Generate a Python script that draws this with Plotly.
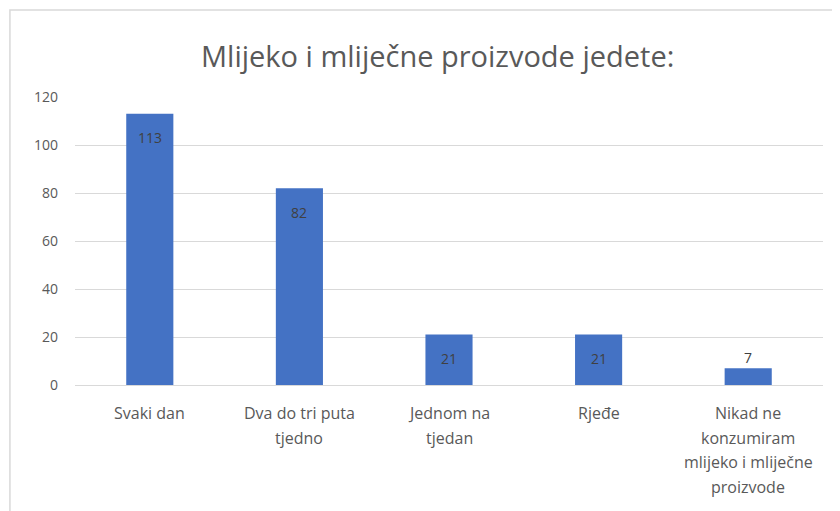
import plotly.graph_objects as go

categories = ["Svaki dan", "Dva do tri puta\ntjedno", "Jednom na\ntjedan", "Rjeđe",
              "Nikad ne\nkonzumiram\nmlijeko i mliječne\nproizvode"]
values = [113, 82, 21, 21, 7]
y_ticks = [0, 20, 40, 60, 80, 100, 120]
title_text = "Mlijeko i mliječne proizvode jedete:"

FONT = "Open Sans"
GRAY = "#595959"
BAR = "#4472C4"

fig = go.Figure(go.Bar(
    x=list(range(len(categories))), y=values,
    marker=dict(color=BAR, line=dict(width=0)),
    hoverinfo="x+y",
))

annotations = []
# category labels (multi-line, wider line spacing)
for i, cat in enumerate(categories):
    for j, line in enumerate(cat.split("\n")):
        annotations.append(dict(
            x=i, y=0, xref="x", yref="paper", text=line, showarrow=False,
            yanchor="middle", yshift=-28 - 24.5 * j,
            font=dict(family=FONT, size=16, color=GRAY),
        ))
# value labels
for i, v in enumerate(values):
    inside = v > 15
    annotations.append(dict(
        x=i, y=v, xref="x", yref="y", text=str(v), showarrow=False,
        yanchor="middle", yshift=-24 if inside else 11,
        font=dict(family=FONT, size=14, color="#404040"),
    ))
# title
annotations.append(dict(
    x=0.484, y=1.0, xref="paper", yref="paper", text=title_text, showarrow=False,
    yanchor="middle", yshift=42, font=dict(family=FONT, size=29, color=GRAY),
))

fig.update_layout(
    width=840, height=511,
    margin=dict(l=67, r=25, t=89, b=134),
    paper_bgcolor="white", plot_bgcolor="white",
    bargap=0.685, showlegend=False,
    annotations=annotations,
    xaxis=dict(range=[-0.5, len(categories) - 0.5], showticklabels=False,
               showgrid=False, zeroline=False, showline=True,
               linecolor="#d9d9d9", linewidth=1, fixedrange=True),
    yaxis=dict(range=[0, 120], tickvals=y_ticks, showgrid=True, gridcolor="#d9d9d9",
               gridwidth=1, zeroline=False, showline=False,
               tickfont=dict(family=FONT, size=14, color=GRAY),
               ticklabelstandoff=16),
    shapes=[dict(type="rect", xref="paper", yref="paper",
                 x0=-0.087, x1=1.06, y0=-0.6, y1=1.302,
                 line=dict(color="#d9d9d9", width=1.5), fillcolor="rgba(0,0,0,0)",
                 layer="below")],
)

fig.write_html("out.html")
